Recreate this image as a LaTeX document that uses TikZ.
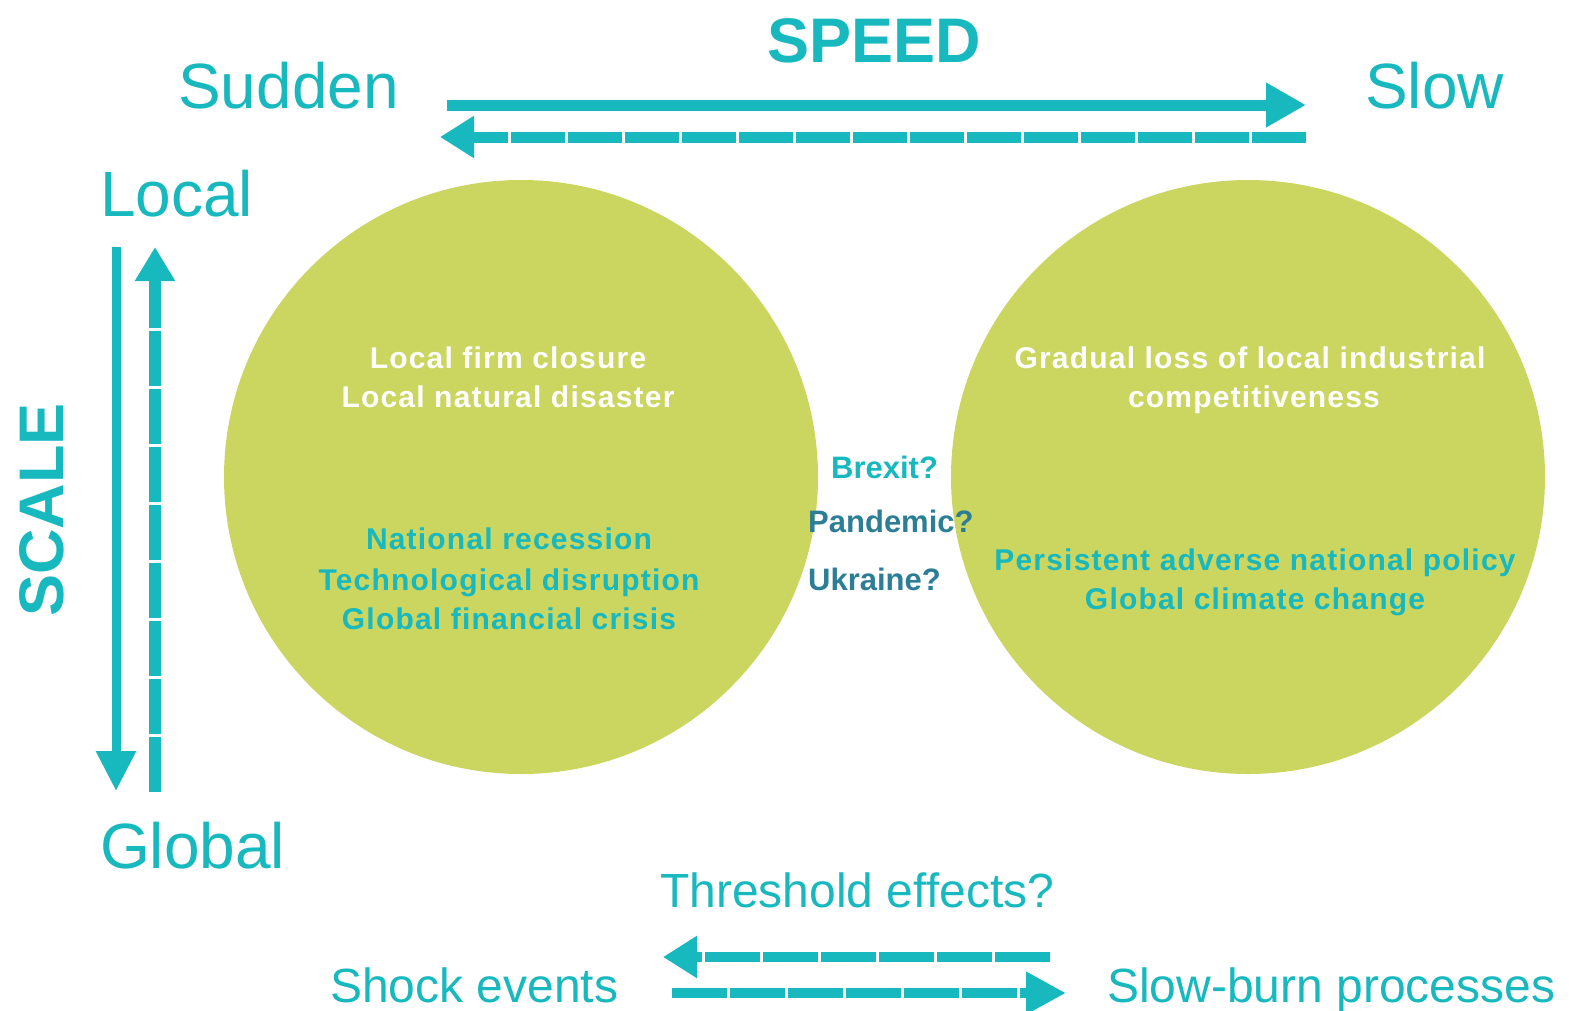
\documentclass[tikz,border=0pt]{standalone}
\usepackage{fontspec}
\setmainfont{Liberation Sans}
\usetikzlibrary{arrows.meta}
\definecolor{tealc}{RGB}{23,184,190}
\definecolor{darkteal}{RGB}{44,126,150}
\definecolor{leaf}{RGB}{203,214,96}
\newcommand\setpx[1]{\fontsize{#1}{#1}\selectfont}
\begin{document}
\begin{tikzpicture}[x=1pt,y=-1pt,
  axislabel/.style={font=\setpx{64}, text=tealc, inner sep=0pt},
  sidelabel/.style={font=\setpx{48}, text=tealc, inner sep=0pt},
  heading/.style={font=\setpx{63}\bfseries, text=tealc, inner sep=0pt},
  eventtext/.style={font=\setpx{30}\bfseries\addfontfeatures{LetterSpace=4}, inner sep=0pt, anchor=base},
  midtext/.style={font=\setpx{31}\bfseries, inner sep=0pt, anchor=base west},
  bubble/.style={circle, fill=leaf, minimum size=594pt, inner sep=0pt},
  solidarrow/.style={draw=tealc, line width=11pt, line cap=butt,
    -{Triangle[length=40pt,width=42pt]}},
  dasharrow/.style={draw=tealc, line width=11pt, line cap=butt,
    dash pattern=on 54pt off 3pt, -{Triangle[length=34pt,width=40pt]}},
]
\useasboundingbox (0,0) rectangle (1569,1010);

% the two event circles
\node[bubble] (sudden) at (521,477) {};
\node[bubble] (slow) at (1248,477) {};

% speed axis
\node[heading, anchor=base] (speed) at (874,62) {SPEED};
\node[axislabel, anchor=base west] (lsudden) at (178,108) {Sudden};
\node[axislabel, anchor=base west] (lslow) at (1365,108) {Slow};
\coordinate (s1) at (447,105);
\coordinate (s2) at (1306,105);
\coordinate (s3) at (1306,137);
\coordinate (s4) at (440,137);
\draw[solidarrow] (s1) -- (s2);
\draw[dasharrow] (s3) -- (s4);

% scale axis
\node[heading, rotate=90, anchor=base] (scale) at (63,510) {SCALE};
\node[axislabel, anchor=base west] (llocal) at (100,216) {Local};
\node[axislabel, anchor=base west] (lglobal) at (100,868) {Global};
\coordinate (v1) at (116,247);
\coordinate (v2) at (116,791);
\coordinate (v3) at (155,792);
\coordinate (v4) at (155,247);
\draw[solidarrow, line width=9pt, -{Triangle[length=40pt,width=38pt]}] (v1) -- (v2);
\draw[dasharrow, line width=12pt, dash pattern=on 55pt off 3pt,
  -{Triangle[length=34pt,width=38pt]}] (v3) -- (v4);

% events in the left circle
\node[eventtext, text=white] (a1) at (508,368) {Local firm closure};
\node[eventtext, text=white] (a2) at (508,407) {Local natural disaster};
\node[eventtext, text=tealc] (a3) at (509,549) {National recession};
\node[eventtext, text=tealc] (a4) at (509,590) {Technological disruption};
\node[eventtext, text=tealc] (a5) at (509,629) {Global financial crisis};

% events in the right circle
\node[eventtext, text=white] (b1) at (1250,368) {Gradual loss of local industrial};
\node[eventtext, text=white] (b2) at (1254,407) {competitiveness};
\node[eventtext, text=tealc] (b3) at (1255,570) {Persistent adverse national policy};
\node[eventtext, text=tealc] (b4) at (1255,609) {Global climate change};

% open cases between the circles
\node[midtext, text=tealc] (c1) at (831,478) {Brexit?};
\node[midtext, text=darkteal] (c2) at (808,532) {Pandemic?};
\node[midtext, text=darkteal] (c3) at (808,590) {Ukraine?};

% threshold row
\node[sidelabel, anchor=base west] (thr) at (660,907) {Threshold effects?};
\node[sidelabel, anchor=base west] (shock) at (330,1002) {Shock events};
\node[sidelabel, anchor=base west] (burn) at (1107,1002) {Slow-burn processes};
\coordinate (t1) at (1050,957);
\coordinate (t2) at (663,957);
\coordinate (t3) at (672,993);
\coordinate (t4) at (1066,993);
\draw[dasharrow, line width=10pt, dash pattern=on 55pt off 3pt] (t1) -- (t2);
\draw[dasharrow, line width=10pt, dash pattern=on 55pt off 3pt,
  -{Triangle[length=40pt,width=40pt]}] (t3) -- (t4);
\end{tikzpicture}
\end{document}
